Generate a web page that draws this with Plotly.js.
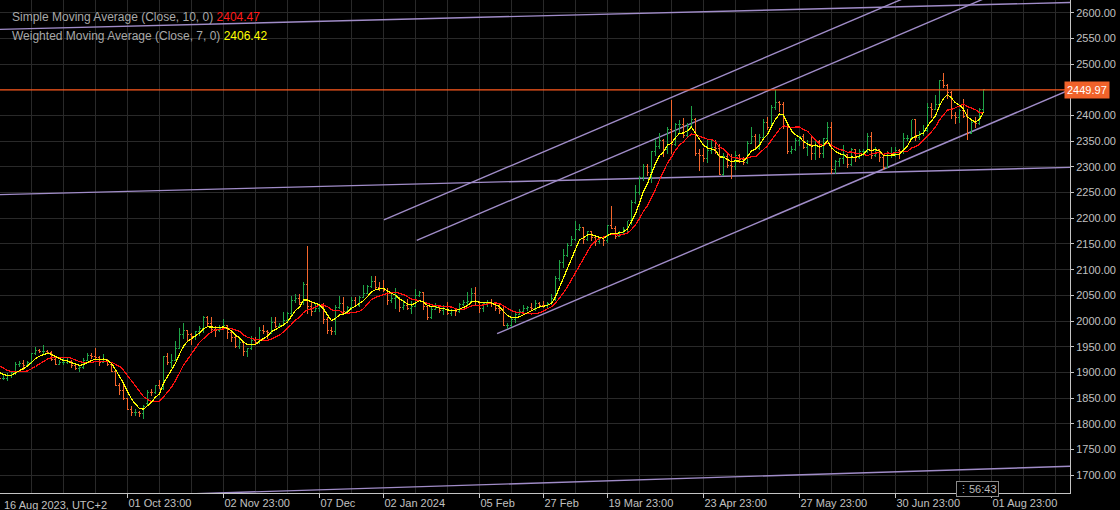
<!DOCTYPE html>
<html>
<head>
<meta charset="utf-8">
<script src="https://cdn.plot.ly/plotly-3.0.1.min.js"></script>
<style>
html,body{margin:0;padding:0;background:#000;}
#chart{width:1120px;height:510px;}
</style>
</head>
<body>
<div id="chart"></div>
<script>
// Daily XAUUSD bars, 16 Aug 2023 .. 31 Jul 2024 (bar index 0 = 16 Aug 2023)
const open = [
1902,1891,1889,1889,1894,1899,1915,1917,1914,1920,
1937,1942,1940,1940,1938,1926,1916,1919,1919,1922,
1913,1908,1910,1924,1934,1931,1930,1920,1925,1915,
1901,1875,1864,1849,1828,1822,1822,1820,1840,1862,
1861,1874,1868,1932,1920,1923,1947,1974,1981,1973,
1970,1979,1985,2006,1996,1983,1982,1985,1992,1978,
1969,1950,1958,1940,1946,1963,1959,1981,1980,1978,
1998,1990,1992,2002,2014,2041,2044,2036,2072,2029,
2019,2025,2028,2004,1982,1980,2027,2035,2019,2027,
2040,2031,2046,2053,2067,2077,2065,2063,2059,2041,
2043,2045,2027,2030,2024,2029,2049,2055,2028,2006,
2023,2029,2021,2029,2014,2020,2018,2032,2037,2039,
2054,2039,2025,2035,2035,2034,2024,2020,1992,1992,
2004,2013,2018,2025,2026,2024,2035,2031,2030,2034,
2044,2083,2114,2128,2148,2159,2179,2182,2158,2174,
2162,2155,2160,2157,2186,2181,2165,2172,2178,2195,
2230,2251,2280,2300,2290,2330,2339,2352,2333,2372,
2344,2383,2383,2361,2379,2392,2327,2322,2316,2332,
2337,2335,2286,2320,2303,2301,2323,2314,2309,2346,
2360,2336,2358,2386,2376,2415,2425,2421,2379,2329,
2334,2351,2360,2338,2343,2327,2350,2327,2355,2376,
2294,2311,2316,2325,2304,2333,2319,2329,2329,2360,
2322,2334,2319,2298,2327,2327,2331,2330,2356,2356,
2392,2358,2364,2371,2415,2411,2422,2469,2459,2445,
2400,2396,2409,2398,2365,2387,2384,2411];
const high = [
1904,1896,1895,1899,1902,1920,1922,1925,1923,1938,
1949,1946,1953,1943,1942,1930,1924,1929,1928,1925,
1916,1915,1928,1937,1937,1947,1932,1935,1926,1917,
1904,1880,1880,1850,1834,1829,1826,1836,1865,1867,
1876,1885,1933,1938,1935,1962,1987,1997,1983,1976,
1981,1990,2009,2009,2007,1990,1992,2004,1993,1980,
1972,1965,1960,1947,1971,1970,1989,1993,1982,2007,
2007,1997,2017,2018,2048,2052,2052,2076,2146,2037,
2035,2034,2035,2007,1988,2031,2048,2047,2030,2047,
2046,2048,2071,2070,2088,2088,2077,2079,2065,2054,
2064,2047,2041,2042,2039,2062,2059,2057,2031,2027,
2035,2031,2032,2038,2024,2025,2035,2041,2056,2065,
2066,2040,2038,2041,2042,2036,2033,2031,1996,2006,
2015,2023,2031,2030,2035,2041,2038,2039,2038,2052,
2088,2119,2141,2152,2165,2195,2189,2184,2175,2175,
2165,2164,2162,2187,2223,2185,2176,2183,2195,2235,
2265,2283,2305,2305,2330,2354,2365,2355,2378,2431,
2385,2392,2395,2385,2418,2395,2335,2336,2352,2352,
2353,2345,2327,2327,2325,2331,2325,2320,2351,2378,
2364,2364,2393,2398,2420,2450,2429,2426,2385,2341,
2356,2361,2364,2352,2360,2354,2352,2357,2388,2387,
2314,2318,2342,2326,2336,2334,2334,2334,2365,2368,
2338,2335,2321,2331,2339,2339,2335,2365,2363,2392,
2393,2370,2381,2424,2424,2440,2469,2483,2462,2448,
2407,2413,2432,2413,2389,2397,2414,2451];
const low = [
1890,1885,1885,1884,1890,1896,1911,1904,1913,1916,
1934,1937,1936,1935,1923,1915,1914,1915,1917,1908,
1905,1901,1907,1922,1927,1926,1913,1918,1912,1900,
1873,1857,1846,1827,1815,1816,1813,1810,1834,1854,
1859,1867,1865,1915,1909,1922,1945,1965,1961,1954,
1963,1971,1977,1989,1977,1970,1979,1982,1965,1959,
1947,1946,1932,1931,1943,1956,1956,1975,1965,1975,
1987,1989,1991,1999,2012,2036,2032,2032,2014,2010,
2017,2018,1995,1975,1973,1973,2024,2014,2016,2021,
2027,2028,2044,2052,2064,2062,2058,2057,2031,2036,
2024,2017,2021,2021,2013,2028,2047,2022,2002,2005,
2021,2015,2011,2012,2010,2010,2016,2029,2030,2035,
2031,2015,2018,2027,2027,2019,2014,1990,1984,1989,
1996,2012,2015,2020,2020,2019,2025,2025,2025,2031,
2039,2078,2103,2124,2146,2155,2175,2150,2155,2155,
2146,2150,2146,2151,2180,2160,2163,2170,2172,2186,
2228,2245,2272,2283,2268,2322,2334,2319,2326,2326,
2341,2364,2356,2359,2378,2321,2292,2310,2308,2326,
2325,2285,2282,2297,2277,2293,2308,2303,2306,2345,
2334,2333,2354,2371,2375,2410,2407,2374,2325,2325,
2330,2341,2334,2321,2314,2314,2317,2318,2348,2287,
2286,2299,2305,2297,2302,2310,2315,2322,2327,2316,
2319,2310,2293,2297,2318,2319,2315,2326,2350,2353,
2350,2352,2361,2368,2396,2410,2414,2453,2433,2394,
2384,2385,2396,2353,2364,2375,2382,2404];
const close = [
1891,1889,1889,1894,1899,1915,1917,1914,1920,1937,
1942,1940,1940,1938,1926,1916,1919,1919,1922,1913,
1908,1910,1924,1934,1931,1930,1920,1925,1915,1901,
1875,1864,1849,1828,1822,1822,1820,1833,1862,1861,
1874,1868,1932,1920,1923,1947,1974,1981,1973,1970,
1979,1985,2006,1996,1983,1982,1985,1992,1978,1969,
1950,1958,1940,1946,1963,1959,1981,1980,1978,1998,
1990,1992,2002,2014,2041,2044,2036,2072,2029,2019,
2025,2028,2004,1982,1980,2027,2035,2019,2027,2040,
2031,2046,2053,2067,2077,2065,2063,2059,2041,2043,
2045,2027,2030,2024,2029,2049,2055,2028,2006,2023,
2029,2021,2029,2014,2020,2018,2032,2037,2039,2054,
2039,2025,2035,2035,2034,2024,2020,1992,1992,2004,
2013,2018,2025,2026,2024,2035,2031,2030,2034,2044,
2083,2114,2128,2148,2159,2179,2182,2158,2174,2162,
2155,2160,2157,2186,2181,2165,2172,2178,2195,2230,
2251,2280,2300,2290,2330,2339,2352,2333,2372,2344,
2383,2383,2361,2379,2392,2327,2322,2316,2332,2337,
2335,2286,2320,2303,2301,2323,2314,2309,2346,2360,
2336,2358,2386,2376,2415,2425,2421,2379,2329,2334,
2351,2360,2338,2343,2327,2350,2327,2355,2376,2294,
2311,2316,2325,2304,2333,2319,2329,2329,2360,2322,
2334,2319,2298,2327,2327,2331,2330,2356,2356,2392,
2358,2364,2371,2415,2411,2422,2469,2459,2445,2400,
2396,2409,2398,2365,2387,2384,2411,2449.97];
// closes of the bars just before the visible window (3..15 Aug 2023), used by the averages
const priorCloses = [1934,1942,1936,1925,1915,1913,1914,1907,1902];

// x-axis date labels and the bar index where each sits
const tickIndex = [33,57,81,97,121,137,153,177,201,225,249];
const tickLabels = ["01 Oct 23:00","02 Nov 23:00","07 Dec","02 Jan 2024","05 Feb","27 Feb","19 Mar 23:00","23 Apr 23:00","27 May 23:00","30 Jun 23:00","01 Aug 23:00"];
const firstLabel = "16 Aug 2023, UTC+2";
// price-axis labels (2450 is hidden under the last-price tag)
const priceTicks = [1700,1750,1800,1850,1900,1950,2000,2050,2100,2150,2200,2250,2300,2350,2400,2500,2550,2600];

// hand-drawn trend lines (bar index, price)
const trendStartX = [1.125, 97.1, 105.3, 125.4, 1.125, 1.125];
const trendStartY = [2567.6, 2197.1, 2157.2, 1975.5, 2246.0, 1652.2];
const trendEndX   = [268.625, 268.625, 268.625, 268.625, 268.625, 268.625];
const trendEndY   = [2619.8, 2765.5, 2698.4, 2450.1, 2299.0, 1717.4];

const lastPrice = 2449.97;
const smaLabel = "Simple Moving Average (Close, 10, 0)";
const smaValue = "2404.47";
const wmaLabel = "Weighted Moving Average (Close, 7, 0)";
const wmaValue = "2406.42";
const timerText = "56:43";

const idx = close.map((_, i) => i);
const all = priorCloses.concat(close);
const off = priorCloses.length;
const sma = close.map((_, i) => {
  const k = i + off; let s = 0; for (let j = k - 9; j <= k; j++) s += all[j]; return s / 10;
});
const wma = close.map((_, i) => {
  const k = i + off; let s = 0, w = 0; for (let j = 0; j < 7; j++) { s += all[k - j] * (7 - j); w += 7 - j; } return s / w;
});

// OHLC bar paths (vertical high-low, left open tick, right close tick)
const TW = 0.4;
function barPath(up) {
  const xs = [], ys = [];
  for (let i = 0; i < close.length; i++) {
    if ((close[i] >= open[i]) !== up) continue;
    xs.push(i, i, null, i - TW, i, null, i, i + TW, null);
    ys.push(low[i], high[i], null, open[i], open[i], null, close[i], close[i], null);
  }
  return {xs, ys};
}
const upBars = barPath(true), downBars = barPath(false);

const FONT = "Liberation Sans, Arial, sans-serif";
const GRID = "#292929";
const AXIS = "#c4c4c4";
const TXT = "#c0c0c0";
const TREND = "#a08cc8";

const traces = [];
for (let t = 0; t < trendStartX.length; t++) {
  traces.push({type:'scatter', mode:'lines', x:[trendStartX[t], trendEndX[t]], y:[trendStartY[t], trendEndY[t]],
    line:{color:TREND, width:1.4}, hoverinfo:'skip', showlegend:false});
}
traces.push({type:'scatter', mode:'lines', x:upBars.xs, y:upBars.ys, connectgaps:false,
  line:{color:'#1fa447', width:1}, hoverinfo:'skip', showlegend:false});
traces.push({type:'scatter', mode:'lines', x:downBars.xs, y:downBars.ys, connectgaps:false,
  line:{color:'#f4662c', width:1}, hoverinfo:'skip', showlegend:false});
traces.push({type:'scatter', mode:'lines', x:idx, y:sma, line:{color:'#ff1010', width:1.2}, hoverinfo:'skip', showlegend:false});
traces.push({type:'scatter', mode:'lines', x:idx, y:wma, line:{color:'#ffff00', width:1.2}, hoverinfo:'skip', showlegend:false});

const layout = {
  width:1120, height:510,
  margin:{l:0, r:50, t:0, b:17},
  paper_bgcolor:'#000', plot_bgcolor:'#000',
  showlegend:false,
  font:{family:FONT, size:11, color:TXT},
  xaxis:{
    type:'linear', range:[1.125, 268.625],
    tickvals:tickIndex, ticktext:tickLabels, ticks:'outside', ticklen:4, tickcolor:AXIS,
    ticklabelposition:'outside right', tickfont:{family:FONT, size:11, color:TXT},
    showgrid:true, gridcolor:GRID, gridwidth:1, zeroline:false,
    showline:true, linecolor:AXIS, linewidth:1,
    minor:{tick0:1, dtick:8, showgrid:true, gridcolor:GRID, gridwidth:1, ticks:''},
    fixedrange:true
  },
  yaxis:{
    side:'right', range:[1665.5, 2624.7], tickvals:priceTicks, tickformat:'.2f',
    ticks:'outside', ticklen:3, tickcolor:AXIS, tickfont:{family:FONT, size:11, color:TXT},
    showgrid:true, gridcolor:GRID, gridwidth:1, zeroline:false,
    showline:true, linecolor:AXIS, linewidth:1, fixedrange:true
  },
  shapes:[
    {type:'line', xref:'paper', x0:0, x1:1, yref:'y', y0:lastPrice, y1:lastPrice, line:{color:'#ff5a1e', width:1.2}}
  ],
  annotations:[
    {xref:'paper', yref:'paper', x:0, y:1, xshift:10, yshift:-17, xanchor:'left', yanchor:'middle', showarrow:false,
     text:smaLabel + ' <span style="color:#ff1a1a">' + smaValue + '</span>', font:{family:FONT, size:12, color:'#a8a8a8'}},
    {xref:'paper', yref:'paper', x:0, y:1, xshift:10, yshift:-36, xanchor:'left', yanchor:'middle', showarrow:false,
     text:wmaLabel + ' <span style="color:#ffff00">' + wmaValue + '</span>', font:{family:FONT, size:12, color:'#a8a8a8'}},
    {xref:'paper', yref:'y', x:1, y:lastPrice, xanchor:'left', yanchor:'middle', xshift:-6, showarrow:false,
     text:lastPrice.toFixed(2), bgcolor:'#f0622a', borderpad:2, font:{family:FONT, size:11, color:'#ffffff'}},
    {xref:'paper', yref:'paper', x:0, y:0, xanchor:'left', yanchor:'top', xshift:2, yshift:-4, showarrow:false,
     text:firstLabel, font:{family:FONT, size:11, color:TXT}},
    {xref:'x', yref:'paper', x:245.6, y:0, xanchor:'center', yanchor:'middle', yshift:4, showarrow:false,
     text:'⋮' + timerText, bgcolor:'#000', bordercolor:'#8a8a8a', borderwidth:1, borderpad:1,
     font:{family:FONT, size:11, color:'#b8b8b8'}}
  ]
};

Plotly.newPlot('chart', traces, layout, {staticPlot:true, displayModeBar:false}).then(gd => {
  // crisp, unsmoothed price bars and averages as on the terminal chart
  const groups = gd.querySelectorAll('.scatterlayer .trace');
  [6, 7, 8, 9].forEach(k => {
    if (groups[k]) groups[k].querySelectorAll('path').forEach(p => p.style.shapeRendering = 'crispEdges');
  });
});
</script>
</body>
</html>
